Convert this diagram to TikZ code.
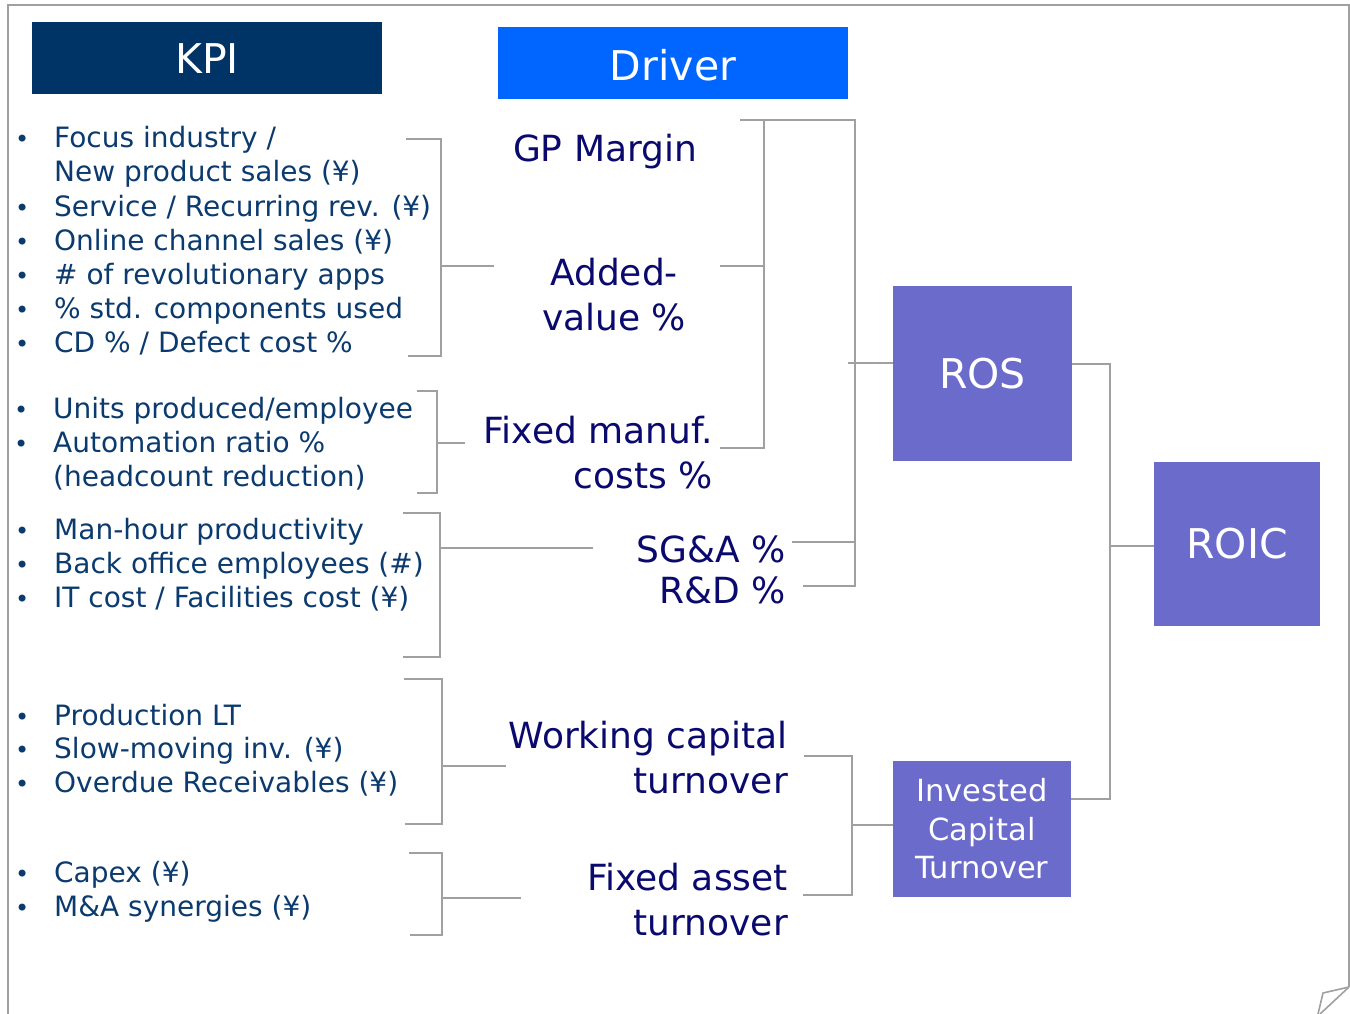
\documentclass[tikz,border=0pt]{standalone}
\usepackage{fontspec}
\setmainfont{DejaVu Sans}
\definecolor{kpinavy}{HTML}{003366}
\definecolor{drvblue}{HTML}{0066FF}
\definecolor{boxpurple}{HTML}{6B6BCC}
\definecolor{listtext}{HTML}{0B3A6E}
\definecolor{drvtext}{HTML}{0A0A6E}
\definecolor{linegray}{HTML}{A0A0A0}
\definecolor{framegray}{HTML}{A0A0A0}
\begin{document}
\begin{tikzpicture}[x=1pt,y=-1pt,
  conn/.style={draw=linegray, line width=2pt},
  framed/.style={draw=framegray, line width=1.6pt},
  hdr/.style={minimum width=350pt, minimum height=72pt, inner sep=0pt, draw=none},
  hdrtext/.style={anchor=base, inner sep=0pt, text=white, font=\fontsize{41}{49}\selectfont},
  kpi/.style={anchor=base west, inner sep=0pt, text=listtext, font=\fontsize{28}{34}\selectfont},
  bul/.style={anchor=base west, inner sep=0pt, text=listtext, font=\fontsize{24}{28}\selectfont},
  drv/.style={anchor=base, inner sep=0pt, text=drvtext, font=\fontsize{36}{45}\selectfont},
  drvr/.style={anchor=base east, inner sep=0pt, text=drvtext, font=\fontsize{36}{45}\selectfont},
  pbox/.style={fill=boxpurple, text=white, inner sep=0pt, align=center}
]
\useasboundingbox (0,0) rectangle (1350,1014);

% frame with page curl
\draw[framed] (8,1014) -- (8,5) -- (1349,5) -- (1349,987);
\draw[framed] (1349,987) -- (1323,993) -- (1318,1014);
\draw[framed] (1349,987) -- (1320,1014);

% headers
\node[hdr, fill=kpinavy] (kpibox) at (207,58) {};
\node[hdrtext] (kpilbl) at (207,74) {KPI};
\node[hdr, fill=drvblue] (drvbox) at (673,63) {};
\node[hdrtext] (drvlbl) at (673,81) {Driver};

% KPI list group 1
\node[bul] (b1a) at (15,148) {•};
\node[kpi] (k1a) at (54,148) {Focus industry /};
\node[kpi] (k1b) at (54,182) {New product sales (¥)};
\node[bul] (b1c) at (15,216) {•};
\node[kpi] (k1c) at (54,216) {Service / Recurring rev. (¥)};
\node[bul] (b1d) at (15,250) {•};
\node[kpi] (k1d) at (54,250) {Online channel sales (¥)};
\node[bul] (b1e) at (15,284) {•};
\node[kpi] (k1e) at (54,284) {\# of revolutionary apps};
\node[bul] (b1f) at (15,318) {•};
\node[kpi] (k1f) at (54,318) {\% std. components used};
\node[bul] (b1g) at (15,352) {•};
\node[kpi] (k1g) at (54,352) {CD \% / Defect cost \%};

% group 2
\node[bul] (b2a) at (14,418) {•};
\node[kpi] (k2a) at (53,418) {Units produced/employee};
\node[bul] (b2b) at (14,452) {•};
\node[kpi] (k2b) at (53,452) {Automation ratio \%};
\node[kpi] (k2c) at (53,486) {(headcount reduction)};

% group 3
\node[bul] (b3a) at (15,539) {•};
\node[kpi] (k3a) at (54,539) {Man-hour productivity};
\node[bul] (b3b) at (15,573) {•};
\node[kpi] (k3b) at (54,573) {Back office employees (\#)};
\node[bul] (b3c) at (15,607) {•};
\node[kpi] (k3c) at (54,607) {IT cost / Facilities cost (¥)};

% group 4
\node[bul] (b4a) at (15,725) {•};
\node[kpi] (k4a) at (54,725) {Production LT};
\node[bul] (b4b) at (15,758.5) {•};
\node[kpi] (k4b) at (54,758.5) {Slow-moving inv. (¥)};
\node[bul] (b4c) at (15,792) {•};
\node[kpi] (k4c) at (54,792) {Overdue Receivables (¥)};

% group 5
\node[bul] (b5a) at (15,882) {•};
\node[kpi] (k5a) at (54,882) {Capex (¥)};
\node[bul] (b5b) at (15,916) {•};
\node[kpi] (k5b) at (54,916) {M\&A synergies (¥)};

% drivers
\node[drv] (gp) at (605,161) {GP Margin};
\node[drv] (av1) at (614,285) {Added-};
\node[drv] (av2) at (614,330) {value \%};
\node[drvr] (fm1) at (713,443) {Fixed manuf.};
\node[drvr] (fm2) at (713,488) {costs \%};
\node[drvr] (sga) at (786,562) {SG\&A \%};
\node[drvr] (rnd) at (786,603) {R\&D \%};
\node[drvr] (wc1) at (788,748) {Working capital};
\node[drvr] (wc2) at (788,793) {turnover};
\node[drvr] (fa1) at (788,890) {Fixed asset};
\node[drvr] (fa2) at (788,935) {turnover};

% result boxes
\node[pbox, minimum width=179pt, minimum height=175pt, font=\fontsize{41}{49}\selectfont] (ros) at (982.5,373.5) {ROS};
\node[pbox, minimum width=166pt, minimum height=164pt, font=\fontsize{41}{49}\selectfont] (roic) at (1237,544) {ROIC};
\node[pbox, minimum width=178pt, minimum height=136pt, font=\fontsize{30.5}{38.5}\selectfont] (ict) at (982,829) {Invested\\Capital\\Turnover};

% KPI brackets
\coordinate (s1) at (494,266);
\coordinate (s2) at (465,443);
\coordinate (s3) at (593,548);
\coordinate (s4) at (506,766);
\coordinate (s5) at (521,898);
\draw[conn] (406,139) -| (441,356) -- (408,356);
\draw[conn] (441,266) -- (s1);
\draw[conn] (417,391) -| (437,493) -- (417,493);
\draw[conn] (437,443) -- (s2);
\draw[conn] (403,513) -| (440,657) -- (403,657);
\draw[conn] (440,548) -- (s3);
\draw[conn] (404,679) -| (442,824) -- (405,824);
\draw[conn] (442,766) -- (s4);
\draw[conn] (409,853) -| (442,935) -- (410,935);
\draw[conn] (442,898) -- (s5);

% drivers to ROS
\draw[conn] (740,120) -- (855,120) -- (855,586) -- (803,586);
\draw[conn] (764,120) -- (764,448) -- (720,448);
\draw[conn] (720,266) -- (764,266);
\draw[conn] (792,542) -- (855,542);
\draw[conn] (848,363) -- (ros.west |- 0,363);

% drivers to ICT
\draw[conn] (804,756) -| (852,895) -- (803,895);
\draw[conn] (852,825) -- (ict.west |- 0,825);

% to ROIC
\draw[conn] (ros.east |- 0,364) -- (1110,364) -- (1110,799) -- (ict.east |- 0,799);
\draw[conn] (1110,546) -- (roic.west |- 0,546);
\end{tikzpicture}
\end{document}
